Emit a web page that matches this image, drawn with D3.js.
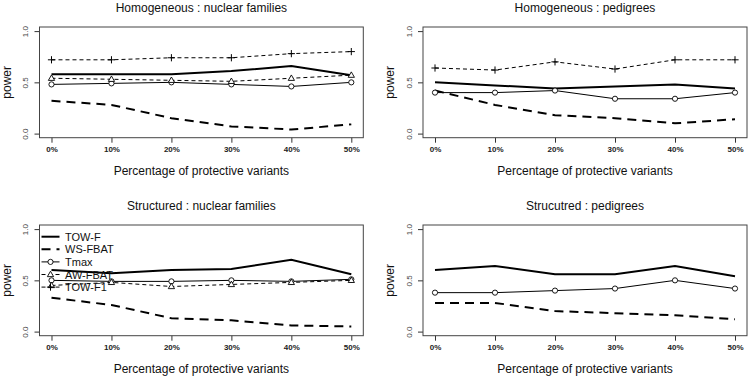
<!DOCTYPE html>
<html>
<head>
<meta charset="utf-8">
<script src="https://cdn.jsdelivr.net/npm/d3@7"></script>
<style>
  html, body { margin: 0; padding: 0; background: #fff; }
  svg { display: block; font-family: "Liberation Sans", Arial, Helvetica, sans-serif; }
</style>
</head>
<body>
<svg id="chart" width="750" height="378"></svg>
<script>
// ---------- data ----------
const categories = [0, 1, 2, 3, 4, 5];
const xTickLabels = ["0%", "10%", "20%", "30%", "40%", "50%"];
const yTickValues = [0, 0.5, 1.0];
const yTickLabels = ["0.0", "0.5", "1.0"];
const panelTitles = ["Homogeneous : nuclear families", "Homogeneous : pedigrees",
                     "Structured : nuclear families", "Strucutred : pedigrees"];
const xAxisTitle = "Percentage of protective variants";
const yAxisTitle = "power";
const seriesNames = ["TOW-F", "WS-FBAT", "Tmax", "AW-FBAT", "TOW-F1"];

// Homogeneous : nuclear families
const homNucTOWF   = [0.58, 0.58, 0.58, 0.61, 0.66, 0.57];
const homNucWSFBAT = [0.32, 0.28, 0.15, 0.07, 0.04, 0.09];
const homNucTmax   = [0.48, 0.49, 0.50, 0.48, 0.46, 0.50];
const homNucAWFBAT = [0.54, 0.53, 0.52, 0.51, 0.54, 0.57];
const homNucTOWF1  = [0.72, 0.72, 0.74, 0.74, 0.78, 0.80];
// Homogeneous : pedigrees
const homPedTOWF   = [0.50, 0.47, 0.44, 0.46, 0.48, 0.44];
const homPedWSFBAT = [0.42, 0.28, 0.18, 0.15, 0.10, 0.14];
const homPedTmax   = [0.40, 0.40, 0.42, 0.34, 0.34, 0.40];
const homPedTOWF1  = [0.64, 0.62, 0.70, 0.63, 0.72, 0.72];
// Structured : nuclear families
const strNucTOWF   = [0.60, 0.57, 0.60, 0.61, 0.70, 0.56];
const strNucWSFBAT = [0.33, 0.26, 0.13, 0.11, 0.06, 0.05];
const strNucTmax   = [0.50, 0.49, 0.49, 0.50, 0.49, 0.51];
const strNucAWFBAT = [0.45, 0.48, 0.44, 0.46, 0.48, 0.50];
// Structured : pedigrees
const strPedTOWF   = [0.60, 0.64, 0.56, 0.56, 0.64, 0.54];
const strPedWSFBAT = [0.28, 0.28, 0.20, 0.18, 0.16, 0.12];
const strPedTmax   = [0.38, 0.38, 0.40, 0.42, 0.50, 0.42];

// ---------- styles ----------
const styles = {
  "TOW-F":   { width: 2,   dash: null,  pch: null },
  "WS-FBAT": { width: 2,   dash: "9,6", pch: null },
  "Tmax":    { width: 1,   dash: null,  pch: "circle" },
  "AW-FBAT": { width: 1,   dash: "4,3", pch: "triangle" },
  "TOW-F1":  { width: 1,   dash: "4,3", pch: "plus" }
};

const panels = [
  { title: panelTitles[0], col: 0, row: 0, legend: false,
    series: [["TOW-F", homNucTOWF], ["WS-FBAT", homNucWSFBAT], ["Tmax", homNucTmax], ["AW-FBAT", homNucAWFBAT], ["TOW-F1", homNucTOWF1]] },
  { title: panelTitles[1], col: 1, row: 0, legend: false,
    series: [["TOW-F", homPedTOWF], ["WS-FBAT", homPedWSFBAT], ["Tmax", homPedTmax], ["TOW-F1", homPedTOWF1]] },
  { title: panelTitles[2], col: 0, row: 1, legend: true,
    series: [["TOW-F", strNucTOWF], ["WS-FBAT", strNucWSFBAT], ["Tmax", strNucTmax], ["AW-FBAT", strNucAWFBAT]] },
  { title: panelTitles[3], col: 1, row: 1, legend: false,
    series: [["TOW-F", strPedTOWF], ["WS-FBAT", strPedWSFBAT], ["Tmax", strPedTmax]] }
];

// ---------- layout ----------
const colBox = [[39.5, 363.3], [423, 747]];
const rowBox = [[27, 137.7], [225, 335.7]];
const rowShift = [0, 198];

const svg = d3.select("#chart");

function drawMarker(g, type, x, y) {
  if (type === "circle") {
    g.append("circle").attr("cx", x).attr("cy", y).attr("r", 2.6)
      .attr("fill", "#fff").attr("stroke", "#000").attr("stroke-width", 0.9);
  } else if (type === "triangle") {
    const s = 3.3;
    g.append("path")
      .attr("d", `M${x},${y - s}L${x + s * 0.95},${y + s * 0.65}L${x - s * 0.95},${y + s * 0.65}Z`)
      .attr("fill", "#fff").attr("stroke", "#000").attr("stroke-width", 0.9);
  } else if (type === "plus") {
    const s = 3.6;
    g.append("path").attr("d", `M${x - s},${y}H${x + s}M${x},${y - s}V${y + s}`)
      .attr("stroke", "#000").attr("stroke-width", 1).attr("fill", "none");
  }
}

panels.forEach(p => {
  const [x0, x1] = colBox[p.col];
  const [y0, y1] = rowBox[p.row];
  const dy = rowShift[p.row];
  const x = d3.scaleLinear().domain([-0.2, 5.2]).range([x0, x1]);
  const y = d3.scaleLinear().domain([-0.04, 1.04]).range([y1, y0]);
  const g = svg.append("g");

  // title
  g.append("text").attr("x", (x0 + x1) / 2).attr("y", 11.5 + dy)
    .attr("text-anchor", "middle").attr("font-size", 12).attr("fill", "#111").text(p.title);

  // x axis
  const xa = g.append("g").attr("transform", `translate(0,${y1})`)
    .call(d3.axisBottom(x).tickValues(categories).tickFormat((d, i) => xTickLabels[i]).tickSize(5).tickPadding(4));
  xa.select(".domain").remove();
  xa.selectAll("line").attr("stroke", "#333");
  xa.selectAll("text").attr("font-size", 8).attr("fill", "#222")
    .attr("font-family", "Liberation Sans, Arial, sans-serif").attr("font-weight", "bold");

  // y axis
  const ya = g.append("g").attr("transform", `translate(${x0},0)`)
    .call(d3.axisLeft(y).tickValues(yTickValues).tickFormat((d, i) => yTickLabels[i]).tickSize(5));
  ya.select(".domain").remove();
  ya.selectAll("line").attr("stroke", "#333");
  ya.selectAll("text").attr("font-size", 8).attr("fill", "#444")
    .attr("font-family", "Liberation Sans, Arial, sans-serif")
    .attr("text-anchor", "middle").attr("dy", null).attr("x", null)
    .attr("transform", "translate(-11.5,0) rotate(-90)");

  // axis titles
  g.append("text").attr("x", (x0 + x1) / 2).attr("y", 174.5 + dy)
    .attr("text-anchor", "middle").attr("font-size", 12).attr("fill", "#111").text(xAxisTitle);
  g.append("text").attr("transform", `translate(${x0 - 29},${(y0 + y1) / 2}) rotate(-90)`)
    .attr("text-anchor", "middle").attr("font-size", 12).attr("fill", "#111").text(yAxisTitle);

  // box
  g.append("rect").attr("x", x0).attr("y", y0).attr("width", x1 - x0).attr("height", y1 - y0)
    .attr("fill", "none").attr("stroke", "#444").attr("stroke-width", 1);

  // series
  const line = d3.line().x((d, i) => x(categories[i])).y(d => y(d));
  p.series.forEach(([name, vals]) => {
    const st = styles[name];
    g.append("path").datum(vals).attr("d", line)
      .attr("fill", "none").attr("stroke", "#000").attr("stroke-width", st.width)
      .attr("stroke-dasharray", st.dash);
    if (st.pch) vals.forEach((v, i) => drawMarker(g, st.pch, x(categories[i]), y(v)));
  });

  // legend
  if (p.legend) {
    const lg = g.append("g");
    seriesNames.forEach((name, i) => {
      const st = styles[name];
      const ly = y0 + 11.7 + i * 12.6;
      lg.append("line").attr("x1", x0 + 2).attr("x2", x0 + 20).attr("y1", ly).attr("y2", ly)
        .attr("stroke", "#000").attr("stroke-width", st.width).attr("stroke-dasharray", st.dash);
      if (st.pch) drawMarker(lg, st.pch, x0 + 11, ly);
      lg.append("text").attr("x", x0 + 25.5).attr("y", ly + 4).attr("font-size", 11)
        .attr("fill", "#111").text(name);
    });
  }
});
</script>
</body>
</html>
